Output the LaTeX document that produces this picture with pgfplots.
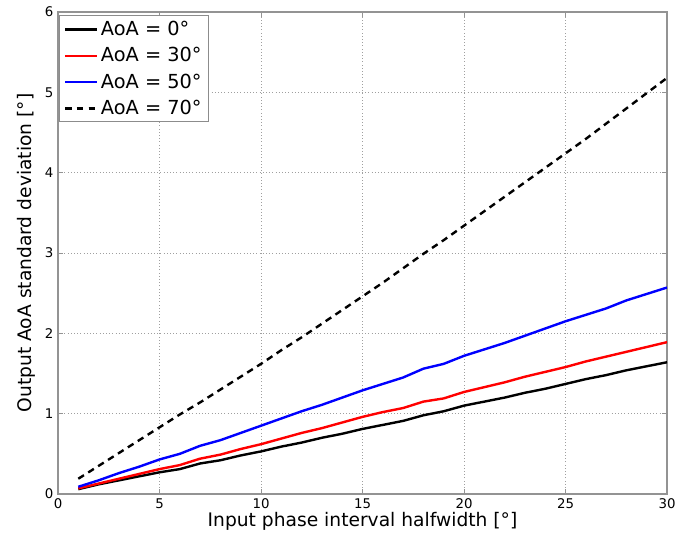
\documentclass[border=0pt]{standalone}
\usepackage{pgfplots}
\pgfplotsset{compat=1.18}
\usepackage{fontspec}
\setmainfont{DejaVu Sans}
\begin{document}
\begin{tikzpicture}
\begin{axis}[
  scale only axis,
  width=456.75pt, height=361.5pt,
  xmin=0, xmax=30, ymin=0, ymax=6,
  xtick={0,5,...,30}, ytick={0,1,...,6},
  axis line style={draw=gray!85, line width=0.9pt},
  tick style={draw=gray!85, line width=0.7pt},
  tick align=inside,
  major tick length=4pt,
  grid=major,
  major grid style={draw=gray!75, dotted, line width=0.75pt},
  /pgf/number format/assume math mode=true,
  ticklabel style={font=\fontsize{10}{12}\selectfont},
  label style={font=\fontsize{14}{17}\selectfont},
  xlabel={Input phase interval halfwidth [°]},
  ylabel={Output AoA standard deviation [°]},
  xlabel style={yshift=4pt},
  ylabel style={yshift=0pt},
  legend style={at={(0,1)}, anchor=north west, xshift=1pt, yshift=-2.5pt,
    draw=gray!90, line width=0.8pt, font=\fontsize{14.5}{17}\selectfont,
    inner xsep=3pt, inner ysep=2pt, row sep=3.5pt},
  legend cell align=left,
  legend image code/.code={\path (0pt,0pt) -- (24pt,0pt);\draw[#1, line width=1.8pt] (0pt,0pt) -- (21pt,0pt);},
]
\addplot[black, line width=1.8pt] coordinates {
(1,0.06)(2,0.12)(3,0.17)(4,0.22)(5,0.27)(6,0.31)(7,0.38)(8,0.42)(9,0.48)(10,0.53)
(11,0.59)(12,0.64)(13,0.70)(14,0.75)(15,0.81)(16,0.86)(17,0.91)(18,0.98)(19,1.03)(20,1.10)
(21,1.15)(22,1.20)(23,1.26)(24,1.31)(25,1.37)(26,1.43)(27,1.48)(28,1.54)(29,1.59)(30,1.64)};
\addlegendentry{AoA = 0°}
\addplot[red, line width=1.8pt] coordinates {
(1,0.07)(2,0.13)(3,0.19)(4,0.25)(5,0.31)(6,0.36)(7,0.44)(8,0.49)(9,0.56)(10,0.62)
(11,0.69)(12,0.76)(13,0.82)(14,0.89)(15,0.96)(16,1.02)(17,1.07)(18,1.15)(19,1.19)(20,1.27)
(21,1.33)(22,1.39)(23,1.46)(24,1.52)(25,1.58)(26,1.65)(27,1.71)(28,1.77)(29,1.83)(30,1.89)};
\addlegendentry{AoA = 30°}
\addplot[blue, line width=1.8pt] coordinates {
(1,0.09)(2,0.17)(3,0.26)(4,0.34)(5,0.43)(6,0.50)(7,0.60)(8,0.67)(9,0.76)(10,0.85)
(11,0.94)(12,1.03)(13,1.11)(14,1.20)(15,1.29)(16,1.37)(17,1.45)(18,1.56)(19,1.62)(20,1.72)
(21,1.80)(22,1.88)(23,1.97)(24,2.06)(25,2.15)(26,2.23)(27,2.31)(28,2.41)(29,2.49)(30,2.57)};
\addlegendentry{AoA = 50°}
\addplot[black, line width=1.8pt, dash pattern=on 5pt off 3.8pt] coordinates {
(1,0.19)(2,0.35)(3,0.51)(4,0.67)(5,0.83)(6,0.99)(7,1.14)(8,1.30)(9,1.46)(10,1.62)
(11,1.79)(12,1.95)(13,2.12)(14,2.29)(15,2.46)(16,2.63)(17,2.81)(18,2.99)(19,3.16)(20,3.34)
(21,3.52)(22,3.70)(23,3.88)(24,4.06)(25,4.24)(26,4.42)(27,4.61)(28,4.80)(29,4.99)(30,5.18)};
\addlegendentry{AoA = 70°}
\end{axis}
\path[use as bounding box] ([shift={(-43.5pt,-36pt)}]current axis.south west) rectangle ([shift={(22.5pt,9pt)}]current axis.north east);
\end{tikzpicture}
\end{document}
